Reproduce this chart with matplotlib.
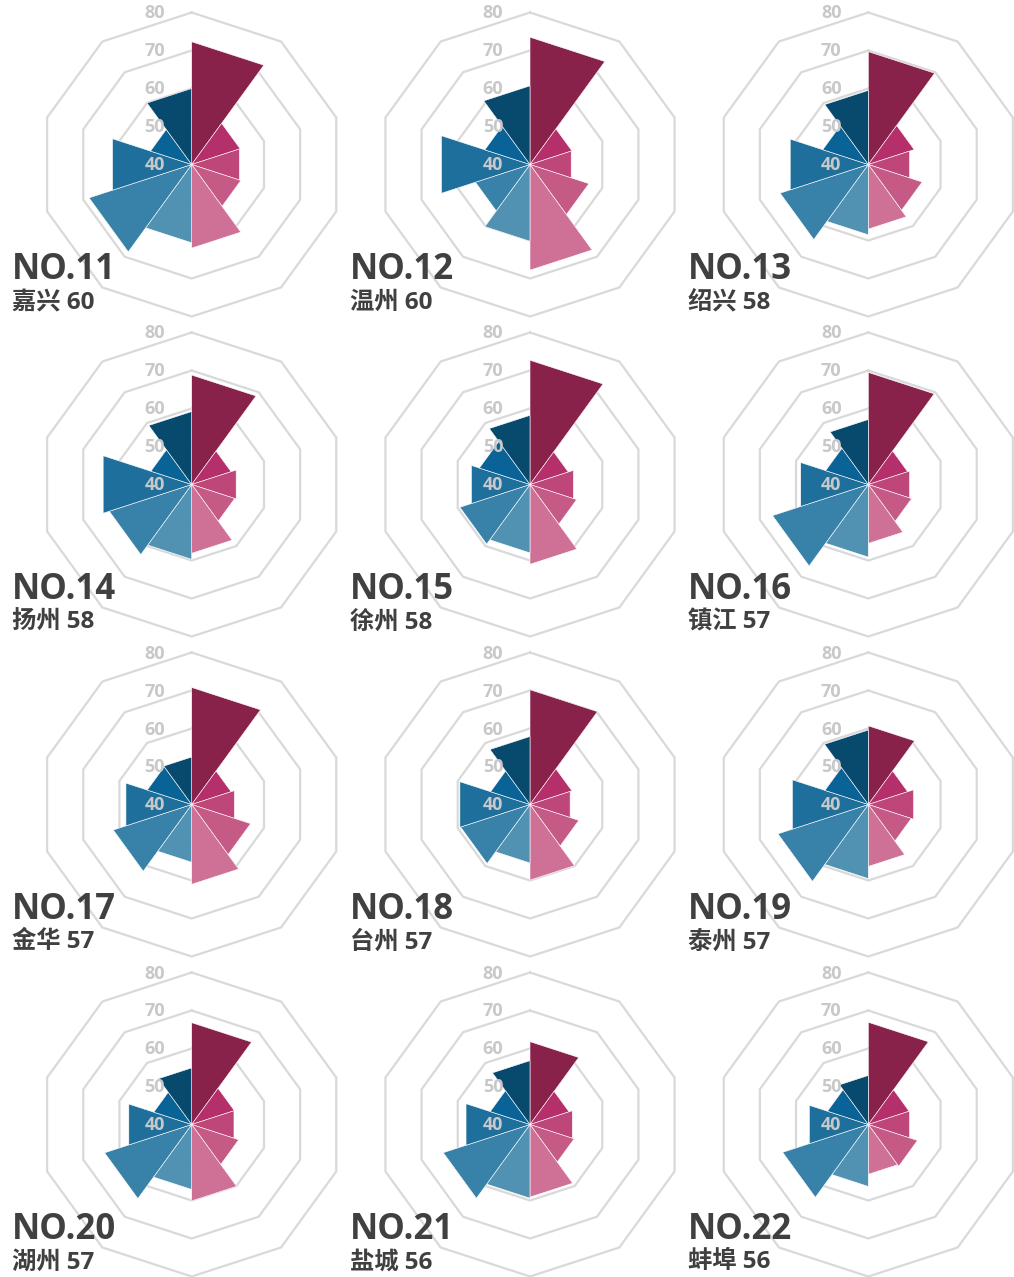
import numpy as np
import matplotlib
matplotlib.use("Agg")
import matplotlib.pyplot as plt
from matplotlib.transforms import offset_copy

# ---------------- data ----------------
ranks = [11, 12, 13, 14, 15, 16, 17, 18, 19, 20, 21, 22]
cities = ["嘉兴", "温州", "绍兴", "扬州", "徐州", "镇江", "金华", "台州", "泰州", "湖州", "盐城", "蚌埠"]
scores = [60, 60, 58, 58, 58, 57, 57, 57, 57, 57, 56, 56]

# ten dimension scores per city, clockwise from 12 o'clock
jiaxing   = [72.3, 53.4, 53.2, 53.6, 62.0, 60.6, 68.4, 61.9, 51.4, 60.0]
wenzhou   = [73.5, 51.6, 51.4, 56.3, 67.8, 60.2, 55.1, 64.5, 52.5, 60.7]
shaoxing  = [69.7, 52.7, 51.4, 54.9, 57.0, 58.5, 64.4, 61.6, 52.6, 59.5]
yangzhou  = [68.8, 50.9, 52.3, 51.9, 58.1, 59.7, 62.8, 64.5, 51.3, 59.2]
xuzhou    = [72.7, 50.6, 52.0, 52.9, 61.0, 58.0, 59.4, 56.2, 54.0, 58.2]
zhenjiang = [69.5, 50.9, 51.4, 52.0, 55.5, 59.1, 66.5, 58.7, 51.8, 57.1]
jinhua    = [70.8, 50.9, 51.8, 56.3, 61.0, 55.2, 61.7, 58.2, 52.3, 52.5]
taizhou_z = [70.2, 51.6, 51.1, 53.5, 59.9, 55.4, 59.2, 59.4, 50.9, 57.9]
taizhou_j = [60.7, 50.9, 52.5, 51.9, 56.3, 59.5, 65.0, 61.0, 52.0, 59.6]
huzhou    = [66.8, 51.8, 51.7, 53.0, 60.1, 57.1, 64.1, 57.4, 50.5, 54.9]
yancheng  = [61.8, 50.8, 51.7, 52.2, 59.1, 59.4, 64.0, 57.7, 51.0, 56.8]
bengbu    = [66.9, 51.3, 51.4, 53.6, 53.1, 56.3, 63.7, 56.3, 51.3, 52.9]
city_values = [jiaxing, wenzhou, shaoxing, yangzhou, xuzhou, zhenjiang,
               jinhua, taizhou_z, taizhou_j, huzhou, yancheng, bengbu]

ring_values = [50, 60, 70, 80]
label_values = [40, 50, 60, 70, 80]
r_min, r_max = 40, 80

colors = ["#88224B", "#B5306A", "#BE4679", "#C65A87", "#CF7096",
          "#5192B3", "#3881A9", "#1F6F9C", "#0A6396", "#08496E"]

# ---------------- layout ----------------
W, H = 1014, 1277
fig = plt.figure(figsize=(W / 100, H / 100), dpi=100)
fig.patch.set_facecolor("white")

R = 152.0                       # pixel radius of the 80 ring
col_x = [191.7, 530.0, 868.3]
row_y = [164.5, 484.5, 804.5, 1124.5]

n = 10
step = 2 * np.pi / n
grid_theta = np.arange(n + 1) * step

title_font = ["Open Sans", "Noto Sans CJK SC", "DejaVu Sans"]

for i, (rank, city, score, vals) in enumerate(zip(ranks, cities, scores, city_values)):
    r, c = divmod(i, 3)
    cx, cy = col_x[c], row_y[r]
    ax = fig.add_axes([(cx - R) / W, 1 - (cy + R) / H, 2 * R / W, 2 * R / H],
                      projection="polar")
    ax.set_theta_zero_location("N")
    ax.set_theta_direction(-1)
    ax.set_ylim(r_min, r_max)
    ax.set_xticks([])
    ax.set_yticks([])
    ax.grid(False)
    ax.spines["polar"].set_visible(False)
    ax.patch.set_visible(False)

    # decagon rings
    for rv in ring_values:
        ax.plot(grid_theta, [rv] * len(grid_theta), color="#d9d9d9", lw=1.6,
                solid_joinstyle="miter", clip_on=False, zorder=1)

    # triangular sectors
    for k, v in enumerate(vals):
        t1, t2 = k * step, (k + 1) * step
        ax.fill([t1, t1, t2], [r_min, v, v], facecolor=colors[k],
                edgecolor="white", linewidth=0.4, zorder=2, clip_on=False)

    # radial labels
    tr = offset_copy(ax.transData, fig=fig, x=-37, y=-1, units="dots")
    for lv in label_values:
        ax.text(0, lv, str(lv), transform=tr, ha="center", va="center",
                fontsize=13, fontweight="bold", color="#c8c8c8",
                family=["Open Sans", "DejaVu Sans"], zorder=5, clip_on=False)

    # titles
    tx = 11.5 + c * 338.3
    fig.text(tx / W, 1 - (279 + r * 320) / H, f"NO.{rank}", ha="left", va="baseline",
             fontsize=25, fontweight="bold", color="#404040", family=title_font)
    fig.text(tx / W, 1 - (308.5 + r * 320) / H, f"{city} {score}", ha="left", va="baseline",
             fontsize=17.5, fontweight="bold", color="#404040", family=title_font)

fig.savefig("out.png", dpi=100, facecolor="white")
